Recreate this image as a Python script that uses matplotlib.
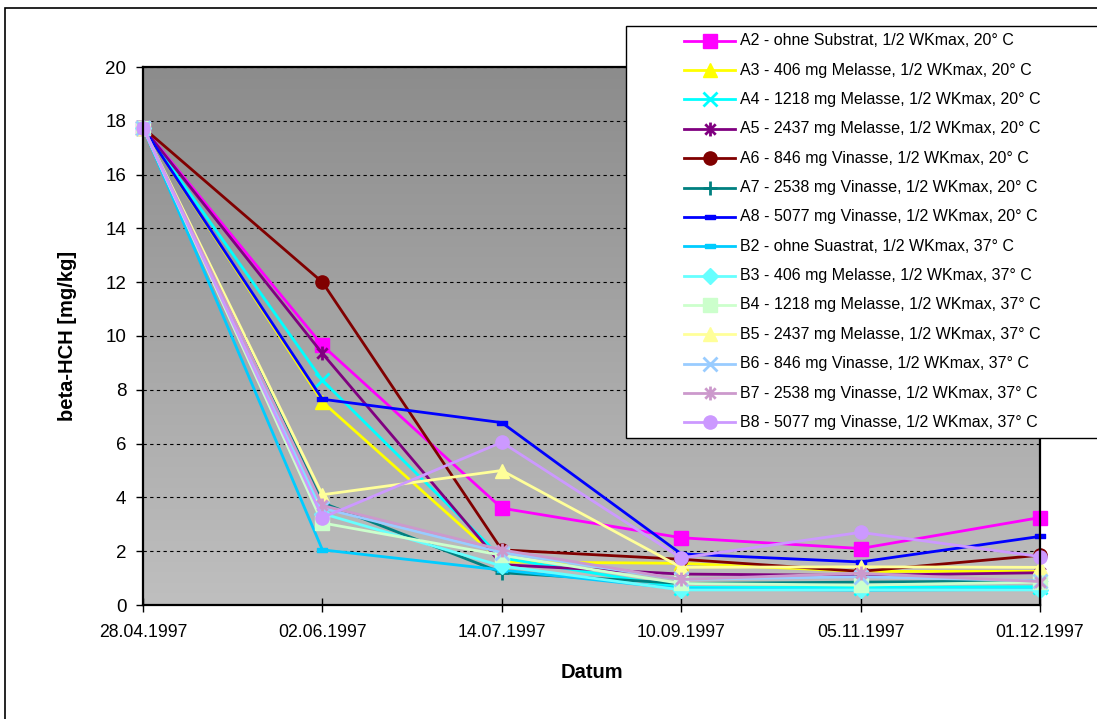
import matplotlib
matplotlib.use("Agg")
import matplotlib.pyplot as plt
import numpy as np
from matplotlib.lines import Line2D
from matplotlib.patches import Rectangle
from matplotlib.path import Path
from matplotlib.colors import LinearSegmentedColormap

plt.rcParams['font.family'] = ['Liberation Sans', 'DejaVu Sans']

# ---- data -------------------------------------------------------------
dates = ['28.04.1997', '02.06.1997', '14.07.1997', '10.09.1997', '05.11.1997', '01.12.1997']

labels = [
    'A2 - ohne Substrat, 1/2 WKmax, 20° C',
    'A3 - 406 mg Melasse, 1/2 WKmax, 20° C',
    'A4 - 1218 mg Melasse, 1/2 WKmax, 20° C',
    'A5 - 2437 mg Melasse, 1/2 WKmax, 20° C',
    'A6 - 846 mg Vinasse, 1/2 WKmax, 20° C',
    'A7 - 2538 mg Vinasse, 1/2 WKmax, 20° C',
    'A8 - 5077 mg Vinasse, 1/2 WKmax, 20° C',
    'B2 - ohne Suastrat, 1/2 WKmax, 37° C',
    'B3 - 406 mg Melasse, 1/2 WKmax, 37° C',
    'B4 - 1218 mg Melasse, 1/2 WKmax, 37° C',
    'B5 - 2437 mg Melasse, 1/2 WKmax, 37° C',
    'B6 - 846 mg Vinasse, 1/2 WKmax, 37° C',
    'B7 - 2538 mg Vinasse, 1/2 WKmax, 37° C',
    'B8 - 5077 mg Vinasse, 1/2 WKmax, 37° C',
]

A2 = [17.75, 9.65, 3.60, 2.50, 2.10, 3.25]
A3 = [17.75, 7.55, 1.60, 1.55, 1.25, 1.25]
A4 = [17.75, 8.35, 1.75, 0.65, 0.65, 0.68]
A5 = [17.75, 9.35, 1.50, 1.15, 1.10, 1.20]
A6 = [17.75, 12.00, 2.05, 1.70, 1.25, 1.85]
A7 = [17.75, 3.80, 1.20, 0.80, 0.85, 0.90]
A8 = [17.75, 7.65, 6.78, 1.90, 1.60, 2.55]
B2 = [17.75, 2.05, 1.30, 0.60, 0.55, 0.58]
B3 = [17.75, 3.40, 1.45, 0.56, 0.56, 0.56]
B4 = [17.75, 3.05, 1.85, 0.80, 0.74, 0.85]
B5 = [17.75, 4.10, 5.00, 1.40, 1.42, 1.40]
B6 = [17.75, 3.60, 1.95, 0.95, 1.05, 0.90]
B7 = [17.75, 3.70, 2.05, 0.95, 1.18, 0.87]
B8 = [17.75, 3.25, 6.05, 1.75, 2.70, 1.80]

series = [A2, A3, A4, A5, A6, A7, A8, B2, B3, B4, B5, B6, B7, B8]

# ---- styles -----------------------------------------------------------
dash = Path([(-1, -0.5), (1, -0.5), (1, 0.5), (-1, 0.5), (-1, -0.5)],
            [Path.MOVETO, Path.LINETO, Path.LINETO, Path.LINETO, Path.CLOSEPOLY])
star = Path([(0, -1), (0, 1), (-0.75, -0.75), (0.75, 0.75), (-0.75, 0.75), (0.75, -0.75)],
            [Path.MOVETO, Path.LINETO, Path.MOVETO, Path.LINETO, Path.MOVETO, Path.LINETO])

colors = ['#FF00FF', '#FFFF00', '#00FFFF', '#800080', '#800000', '#008080', '#0000FF',
          '#00CCFF', '#66FFFF', '#CCFFCC', '#FFFF99', '#99CCFF', '#CC99CC', '#CC99FF']
markers = ['s', '^', 'x', star, 'o', '+', dash,
           dash, 'D', 's', '^', 'x', star, 'o']
msizes = [10, 10, 10, 10, 9.5, 10, 7,
          7, 8, 10, 10, 10, 10, 9.5]

W, H = 1097, 719
fig = plt.figure(figsize=(W / 100, H / 100), dpi=100)
fig.patch.set_facecolor('white')

ax = fig.add_axes([143 / W, 1 - 605 / H, (1040 - 143) / W, (605 - 67) / H])
ax.set_facecolor('none')

# gradient backdrop of the plot area: darker at the top, lighter at the bottom
grad = np.linspace(0, 1, 256).reshape(-1, 1)
cmap = LinearSegmentedColormap.from_list('bg', ['#8c8c8c', '#bfbfbf'])
ax.imshow(grad, extent=[0, 1, 0, 1], transform=ax.transAxes, aspect='auto',
          cmap=cmap, zorder=0, interpolation='bicubic', origin='upper')

x = np.arange(len(dates))
for vals, c, m, ms in zip(series, colors, markers, msizes):
    mew = 2.0 if m in ('x', '+') or m is star else 1.0
    ax.plot(x, vals, color=c, lw=2.0, marker=m, markersize=ms,
            markerfacecolor=c, markeredgecolor=c, markeredgewidth=mew,
            zorder=3, clip_on=False)

ax.set_xlim(0, len(dates) - 1)
ax.set_ylim(0, 20)
ax.set_yticks(np.arange(0, 21, 2))
ax.set_xticks(x)
ax.set_xticklabels(dates)
ax.yaxis.grid(True, linestyle=(0, (3, 3)), color='black', linewidth=0.8, zorder=1)
ax.set_axisbelow(True)

for s in ax.spines.values():
    s.set_color('black')
    s.set_linewidth(1.6)
    s.set_zorder(4)

ax.tick_params(axis='y', direction='out', length=5, width=1, pad=7, labelsize=13.5)
ax.tick_params(axis='x', direction='inout', length=10, width=1, pad=9, labelsize=12.7)

ax.set_ylabel('beta-HCH [mg/kg]', fontsize=14.5, fontweight='bold')
ax.yaxis.set_label_coords((77 - 143) / 897, 0.5)
ax.set_xlabel('Datum', fontsize=14.5, fontweight='bold')
ax.xaxis.set_label_coords(0.5, (605 - 663) / 538)

# outer chart frame
fig.add_artist(Rectangle((5 / W, -0.05), 1.2, 1.05 - 8 / H, transform=fig.transFigure,
                         fill=False, edgecolor='black', lw=1.2, zorder=0.5))

# legend box
fig.add_artist(Rectangle((626 / W, 1 - 438 / H), (1110 - 626) / W, (438 - 26) / H,
                         transform=fig.transFigure, facecolor='white',
                         edgecolor='black', lw=1.0, zorder=5))
for i, (lab, c, m, ms) in enumerate(zip(labels, colors, markers, msizes)):
    yy = 1 - (40.7 + 29.36 * i) / H
    mew = 2.0 if m in ('x', '+') or m is star else 1.0
    fig.add_artist(Line2D([684 / W, 735 / W], [yy, yy], transform=fig.transFigure,
                          color=c, lw=2.0, zorder=6))
    fig.add_artist(Line2D([709.5 / W], [yy], transform=fig.transFigure, color=c,
                          marker=m, markersize=ms, markerfacecolor=c,
                          markeredgecolor=c, markeredgewidth=mew, lw=0, zorder=6))
    fig.text(740 / W, yy, lab, fontsize=11.5, va='center', ha='left', zorder=7)

fig.savefig('out.png', dpi=100)
